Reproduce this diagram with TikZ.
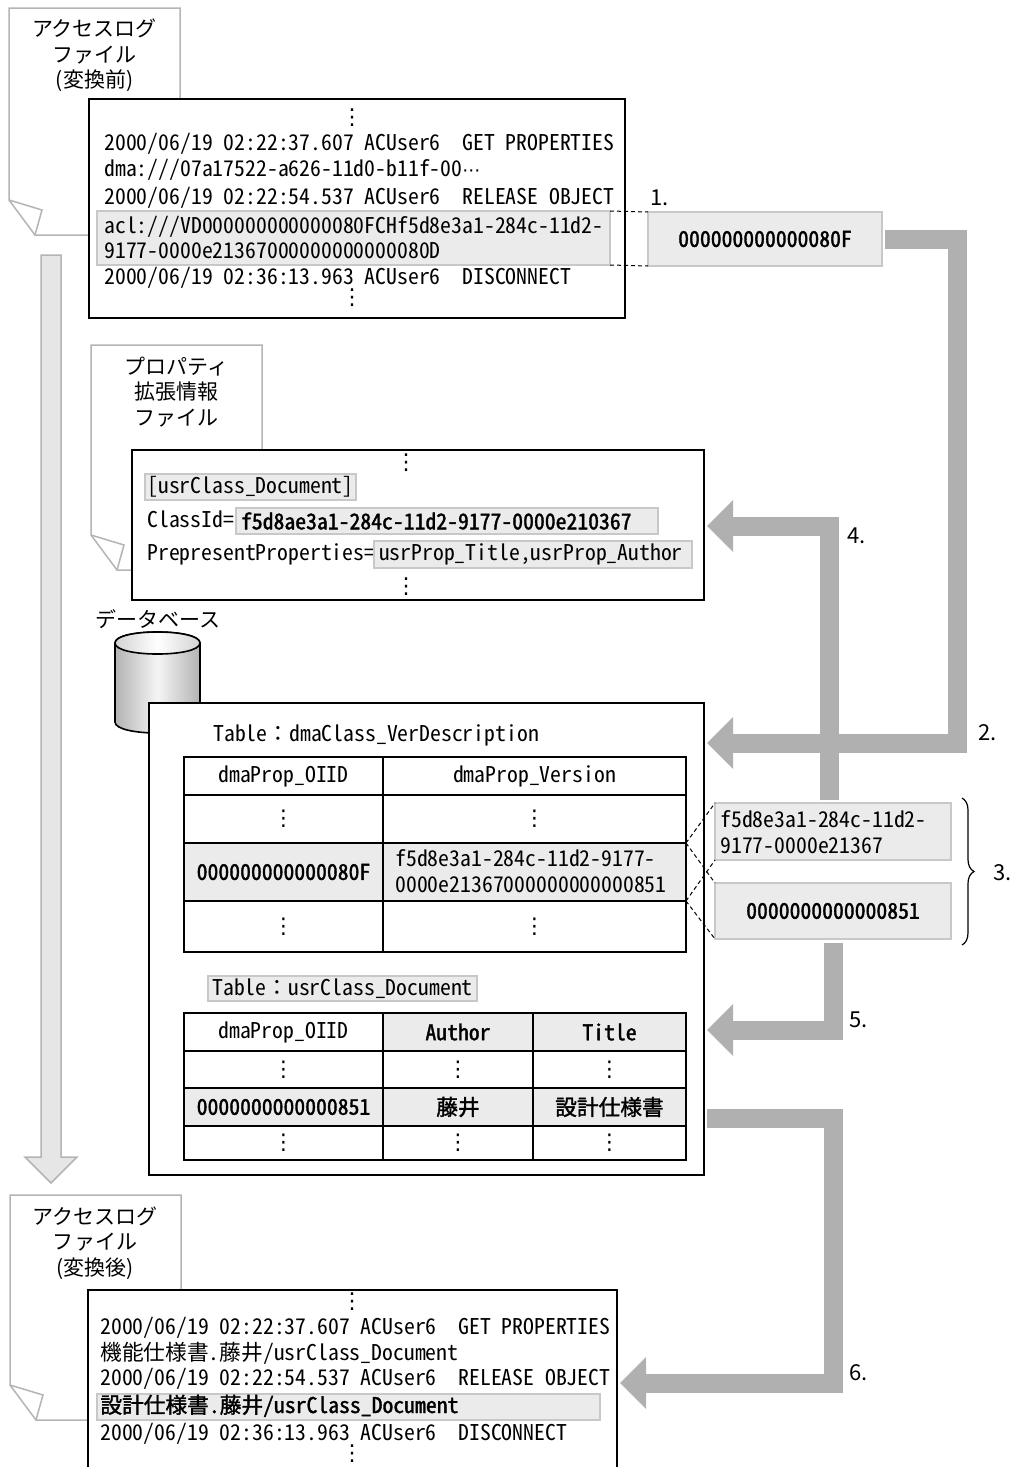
\documentclass[tikz,border=0pt]{standalone}
\usepackage{fontspec}
\setmainfont{Noto Sans CJK JP}[CharacterWidth=Half, BoldFont=Noto Sans CJK JP, BoldFeatures={FakeBold=1.6}]
\newfontfamily\jpfont{Noto Sans CJK JP}
\newfontfamily\symfont{DejaVu Sans}
\usetikzlibrary{arrows.meta, positioning, decorations.pathreplacing}
\definecolor{hlfill}{HTML}{EBEBEB}
\definecolor{hldraw}{HTML}{C8C8C8}
\definecolor{flowgray}{HTML}{B0B0B0}
\definecolor{docgray}{HTML}{B4B4B4}
\definecolor{downfill}{HTML}{E6E6E6}
\newcommand{\fwcolon}{{\jpfont ：}}

\begin{document}
\begin{tikzpicture}[x=0.5pt, y=-0.5pt,
    docline/.style={draw=docgray, line width=0.75pt, fill=white},
    logbox/.style={draw=black, line width=1pt, fill=white, anchor=north west, inner sep=0pt, outer sep=0pt},
    hl/.style={fill=hlfill, draw=hldraw, line width=0.6pt, anchor=north west, inner sep=0pt, outer sep=0pt,
               font=\fontsize{10.85}{12.75}\selectfont},
    txt/.style={anchor=west, inner sep=0pt, font=\fontsize{10.85}{12.75}\selectfont, text height=0.8em, text depth=0.2em},
    lines/.style={anchor=west, inner sep=0pt, align=left, font=\fontsize{10.85}{12.75}\selectfont},
    vdot/.style={inner sep=0pt, font=\symfont\fontsize{11}{13}\selectfont},
    doclabel/.style={inner sep=0pt, align=center, font=\jpfont\fontsize{10.5}{12.8}\selectfont},
    cell/.style={draw=black, line width=0.8pt, anchor=north west, inner sep=0pt, outer sep=0pt,
                 font=\fontsize{10.85}{12.75}\selectfont},
    hcell/.style={cell, fill=hlfill},
    flow/.style={draw=flowgray, line width=9.5pt, -{Triangle[length=13pt, width=25pt]}},
    dashlink/.style={draw=black, line width=0.5pt, dash pattern=on 2pt off 1.5pt},
    num/.style={anchor=west, inner sep=0pt, font=\jpfont\fontsize{11}{13}\selectfont}]
  \fill[white] (0,0) rectangle (1014,1467);
  \useasboundingbox (0,0) rectangle (1014,1467);

  % conversion arrow on the left
  \draw[docgray, fill=downfill, line width=0.75pt] (41,255) -- (61,255) -- (61,1157) -- (77,1157)
    -- (51,1183) -- (25,1157) -- (41,1157) -- cycle;

  % document outlines with folded corner
  \foreach \dx/\dy/\dh in {9/8/227, 91/345/225, 10/1195/225} {
    \draw[docline] (\dx,\dy) -- ++(171,0) -- ++(0,\dh) -- ++(-145,0) -- ++(-26,-35) -- cycle;
    \draw[docgray, line width=0.75pt] (\dx,\dy+\dh-35) -- ++(33,10) -- ++(-7,25);
  }
  \node[doclabel] (docA) at (94.5,55.5) {アクセスログ\\ファイル\\(変換前)};
  \node[doclabel] (docB) at (176.5,392) {プロパティ\\拡張情報\\ファイル};
  \node[doclabel] (docC) at (95,1243) {アクセスログ\\ファイル\\(変換後)};

  % access log before conversion
  \node[logbox, minimum width=268pt, minimum height=109.5pt] (logA) at (89,99) {};
  \node[hl, minimum width=256.5pt, minimum height=27pt] (aclhl) at (97,211) {};
  \node[vdot] (la0) at (352,118) {⋮};
  \node[txt] (la1) at (104,144) {2000/06/19 02:22:37.607 ACUser6~~GET PROPERTIES};
  \node[txt] (la2) at (104,170) {dma:///07a17522-a626-11d0-b11f-00{\symfont\fontsize{9}{11}\selectfont ⋯}};
  \node[txt] (la3) at (104,198) {2000/06/19 02:22:54.537 ACUser6~~RELEASE OBJECT};
  \node[txt] (la4) at (104,227) {acl:///VD000000000000080FCHf5d8e3a1-284c-11d2-};
  \node[txt] (la5) at (104,252) {9177-0000e21367000000000000080D};
  \node[txt] (la6) at (104,278) {2000/06/19 02:36:13.963 ACUser6~~DISCONNECT};
  \node[vdot] (la7) at (352,298) {⋮};

  \node[hl, minimum width=117pt, minimum height=27pt] (oidA) at (648,212) {\bfseries 000000000000080F};
  \draw[dashlink] (aclhl.north east) -- (oidA.north west);
  \draw[dashlink] (aclhl.south east) -- (oidA.south west);
  \node[num] (n1) at (650,198) {1.};

  % property extension file
  \node[logbox, minimum width=286pt, minimum height=75pt] (propbox) at (132,450) {};
  \node[vdot] (pb0) at (406,463) {⋮};
  \node[hl, minimum width=105.5pt, minimum height=13pt] (usrcls) at (145,474) {[usrClass\_Document]};
  \node[txt] (pb1) at (147,521) {ClassId=};
  \node[hl, inner xsep=2.5pt, text width=206pt, align=left, minimum height=13pt] (clsid) at (236,508)
    {\bfseries f5d8ae3a1-284c-11d2-9177-0000e210367};
  \node[txt] (pb2) at (147,554) {PrepresentProperties=};
  \node[hl, inner xsep=2.5pt, text width=154pt, align=left, minimum height=13.5pt] (props) at (374,541)
    {usrProp\_Title,usrProp\_Author};
  \node[vdot] (pb3) at (406,587) {⋮};

  % database
  \node[anchor=west, inner sep=0pt, font=\jpfont\fontsize{10.5}{12.8}\selectfont] (dblabel) at (95,619) {データベース};
  \shadedraw[left color=gray!60, right color=gray!60, middle color=gray!8, line width=0.8pt]
    (115,643) -- (115,722) .. controls (115,736.7) and (200,736.7) .. (200,722) -- (200,643)
    .. controls (200,628.3) and (115,628.3) .. (115,643) -- cycle;
  \shadedraw[left color=gray!35, right color=gray!35, middle color=white, line width=0.8pt]
    (115,643) .. controls (115,628.3) and (200,628.3) .. (200,643)
    .. controls (200,657.7) and (115,657.7) .. (115,643) -- cycle;

  \node[logbox, minimum width=277.5pt, minimum height=236pt] (dbbox) at (149,703) {};
  \node[txt] (t1title) at (213,735) {Table\fwcolon dmaClass\_VerDescription};

  % table dmaClass_VerDescription
  \node[cell, minimum width=99.5pt, minimum height=19pt] (v1a) at (184,757) {dmaProp\_OIID};
  \node[cell, minimum width=151.5pt, minimum height=19pt] (v1b) at (v1a.north east) {dmaProp\_Version};
  \node[cell, minimum width=99.5pt, minimum height=24pt] (v2a) at (v1a.south west) {\symfont ⋮};
  \node[cell, minimum width=151.5pt, minimum height=24pt] (v2b) at (v2a.north east) {\symfont ⋮};
  \node[hcell, minimum width=99.5pt, minimum height=29pt] (v3a) at (v2a.south west) {\bfseries 000000000000080F};
  \node[hcell, minimum width=151.5pt, minimum height=29pt] (v3b) at (v3a.north east) {};
  \node[lines] (v3bt) at (395,871) {f5d8e3a1-284c-11d2-9177-\\0000e21367000000000000851};
  \node[cell, minimum width=99.5pt, minimum height=25.5pt] (v4a) at (v3a.south west) {\symfont ⋮};
  \node[cell, minimum width=151.5pt, minimum height=25.5pt] (v4b) at (v4a.north east) {\symfont ⋮};

  \node[hl, minimum width=118pt, minimum height=28.5pt] (verA) at (715,803) {};
  \node[lines] (verAt) at (720,832) {f5d8e3a1-284c-11d2-\\9177-0000e21367};
  \node[hl, minimum width=118pt, minimum height=28pt] (oidB) at (715,883) {\bfseries 0000000000000851};
  \draw[dashlink] (v3b.north east) -- (verA.north west);
  \draw[dashlink] (v3b.north east) -- (oidB.north west);
  \draw[dashlink] (v3b.south east) -- (verA.south west);
  \draw[dashlink] (v3b.south east) -- (oidB.south west);
  \draw[decorate, decoration={brace, amplitude=6pt}, line width=0.6pt] (962,798) -- (962,945);
  \node[num] (n3) at (993,873) {3.};

  % table usrClass_Document
  \node[hl, minimum width=134.5pt, minimum height=12.5pt] (t2title) at (208,976) {Table\fwcolon usrClass\_Document};
  \node[cell, minimum width=99.5pt, minimum height=19pt] (u1a) at (184,1013) {dmaProp\_OIID};
  \node[hcell, minimum width=75pt, minimum height=19pt] (u1b) at (u1a.north east) {\bfseries Author};
  \node[hcell, minimum width=76.5pt, minimum height=19pt] (u1c) at (u1b.north east) {\bfseries Title};
  \node[cell, minimum width=99.5pt, minimum height=18.5pt] (u2a) at (u1a.south west) {\symfont ⋮};
  \node[cell, minimum width=75pt, minimum height=18.5pt] (u2b) at (u2a.north east) {\symfont ⋮};
  \node[cell, minimum width=76.5pt, minimum height=18.5pt] (u2c) at (u2b.north east) {\symfont ⋮};
  \node[hcell, minimum width=99.5pt, minimum height=19pt] (u3a) at (u2a.south west) {\bfseries 0000000000000851};
  \node[hcell, minimum width=75pt, minimum height=19pt] (u3b) at (u3a.north east) {\bfseries 藤井};
  \node[hcell, minimum width=76.5pt, minimum height=19pt] (u3c) at (u3b.north east) {\bfseries 設計仕様書};
  \node[cell, minimum width=99.5pt, minimum height=17pt] (u4a) at (u3a.south west) {\symfont ⋮};
  \node[cell, minimum width=75pt, minimum height=17pt] (u4b) at (u4a.north east) {\symfont ⋮};
  \node[cell, minimum width=76.5pt, minimum height=17pt] (u4c) at (u4b.north east) {\symfont ⋮};

  % access log after conversion
  \node[logbox, minimum width=264.5pt, minimum height=95pt] (logB) at (88,1290) {};
  \node[hl, minimum width=251.5pt, minimum height=13pt] (outhl) at (97,1394) {};
  \node[vdot] (lb0) at (352,1302) {⋮};
  \node[txt] (lb1) at (100,1328) {2000/06/19 02:22:37.607 ACUser6~~GET PROPERTIES};
  \node[txt] (lb2) at (100,1354) {機能仕様書.藤井/usrClass\_Document};
  \node[txt] (lb3) at (100,1379) {2000/06/19 02:22:54.537 ACUser6~~RELEASE OBJECT};
  \node[txt] (lb4) at (100,1407) {\bfseries 設計仕様書.藤井/usrClass\_Document};
  \node[txt] (lb5) at (100,1434) {2000/06/19 02:36:13.963 ACUser6~~DISCONNECT};
  \node[vdot] (lb6) at (352,1454) {⋮};

  % processing flow
  \coordinate (tip2) at (707,743);
  \coordinate (tip4) at (707,526);
  \coordinate (tip5) at (707,1030);
  \coordinate (out6) at (707,1118);
  \coordinate (tip6) at (620,1383);
  \draw[flow] ([xshift=1.5pt]oidA.east) -| (957,743) -- (tip2);
  \draw[flow] ([xshift=-2pt, yshift=1.5pt]verA.north) |- (tip4);
  \draw[flow] ([yshift=-2pt]oidB.south) |- (tip5);
  \draw[flow] (out6) -| (833,1383) -- (tip6);
  \node[num] (n2) at (978,733) {2.};
  \node[num] (n4) at (847,536) {4.};
  \node[num] (n5) at (849,1020) {5.};
  \node[num] (n6) at (849,1373) {6.};
\end{tikzpicture}
\end{document}
